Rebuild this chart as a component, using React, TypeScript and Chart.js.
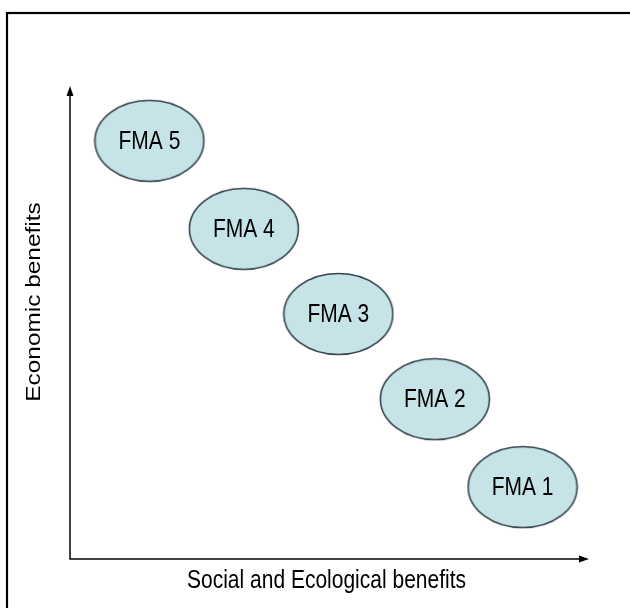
import React, { useEffect, useRef } from "react";
import { Chart, registerables } from "chart.js";

Chart.register(...registerables);

const categories = ["FMA 5", "FMA 4", "FMA 3", "FMA 2", "FMA 1"];
const socialEcological = [1.53, 3.35, 5.17, 7.03, 8.72];
const economic = [8.84, 6.98, 5.18, 3.38, 1.52];
const xTitle = "Social and Ecological benefits";
const yTitle = "Economic benefits";

const FONT = "'Liberation Sans', Arial, sans-serif";
const STRETCH = 1.22;

function makeEllipse(): HTMLCanvasElement {
  const c = document.createElement("canvas");
  const w = 112;
  const h = 84;
  c.width = w;
  c.height = h;
  const ctx = c.getContext("2d")!;
  ctx.beginPath();
  ctx.ellipse(w / 2, h / 2, 54.5, 40.5, 0, 0, Math.PI * 2);
  ctx.fillStyle = "#c6e3e8";
  ctx.fill();
  ctx.lineWidth = 1.6;
  ctx.strokeStyle = "#35444d";
  ctx.stroke();
  return c;
}

const decorPlugin = {
  id: "decor",
  beforeDraw(chart: any) {
    const { ctx, chartArea } = chart;
    const { left, right, top, bottom } = chartArea;
    ctx.save();
    ctx.fillStyle = "#ffffff";
    ctx.fillRect(0, 0, chart.width, chart.height);
    // frame
    ctx.strokeStyle = "#000";
    ctx.lineWidth = 2.2;
    ctx.strokeRect(7, 13, 1000, 1000);
    // axes
    ctx.lineWidth = 1.5;
    ctx.strokeStyle = "#000";
    ctx.beginPath();
    ctx.moveTo(left, top + 6);
    ctx.lineTo(left, bottom);
    ctx.lineTo(right - 6, bottom);
    ctx.stroke();
    ctx.fillStyle = "#000";
    ctx.beginPath();
    ctx.moveTo(left, top);
    ctx.lineTo(left - 3.5, top + 10);
    ctx.lineTo(left + 3.5, top + 10);
    ctx.closePath();
    ctx.fill();
    ctx.beginPath();
    ctx.moveTo(right, bottom);
    ctx.lineTo(right - 10, bottom - 3.5);
    ctx.lineTo(right - 10, bottom + 3.5);
    ctx.closePath();
    ctx.fill();
    // axis titles
    ctx.fillStyle = "#000";
    ctx.font = `21px ${FONT}`;
    ctx.textAlign = "center";
    ctx.textBaseline = "middle";
    ctx.save();
    ctx.translate((left + right) / 2 - 3, 581);
    ctx.scale(1, STRETCH);
    ctx.fillText(xTitle, 0, 0);
    ctx.restore();
    ctx.save();
    ctx.font = `20px ${FONT}`;
    ctx.translate(34, 302);
    ctx.scale(1, STRETCH);
    ctx.rotate(-Math.PI / 2);
    ctx.fillText(yTitle, 0, 0);
    ctx.restore();
    ctx.restore();
  },
  afterDatasetsDraw(chart: any) {
    const { ctx } = chart;
    const meta = chart.getDatasetMeta(0);
    ctx.save();
    ctx.fillStyle = "#000";
    ctx.font = `21px ${FONT}`;
    ctx.textAlign = "center";
    ctx.textBaseline = "middle";
    meta.data.forEach((el: any, i: number) => {
      ctx.save();
      ctx.translate(el.x, el.y + 1);
      ctx.scale(1, STRETCH);
      ctx.fillText(categories[i], 0, 0);
      ctx.restore();
    });
    ctx.restore();
  },
};

export default function App() {
  const ref = useRef<HTMLCanvasElement>(null);
  useEffect(() => {
    if (!ref.current) return;
    const img = makeEllipse();
    const chart = new Chart(ref.current, {
      type: "scatter",
      data: {
        labels: categories,
        datasets: [
          {
            label: "FMA",
            data: socialEcological.map((x, i) => ({ x, y: economic[i] })),
            pointStyle: img as any,
            pointRadius: 40,
            pointHoverRadius: 40,
          },
        ],
      },
      options: {
        animation: false,
        responsive: false,
        events: [],
        layout: { padding: { left: 70, right: 38, top: 86, bottom: 49 } },
        plugins: { legend: { display: false }, tooltip: { enabled: false } },
        scales: {
          x: { type: "linear", min: 0, max: 10, display: false },
          y: { type: "linear", min: 0, max: 10, display: false },
        },
      },
      plugins: [decorPlugin],
    });
    return () => chart.destroy();
  }, []);
  return (
    <canvas
      ref={ref}
      width={630}
      height={608}
      style={{ position: "fixed", left: 0, top: 0, width: 630, height: 608 }}
    />
  );
}
